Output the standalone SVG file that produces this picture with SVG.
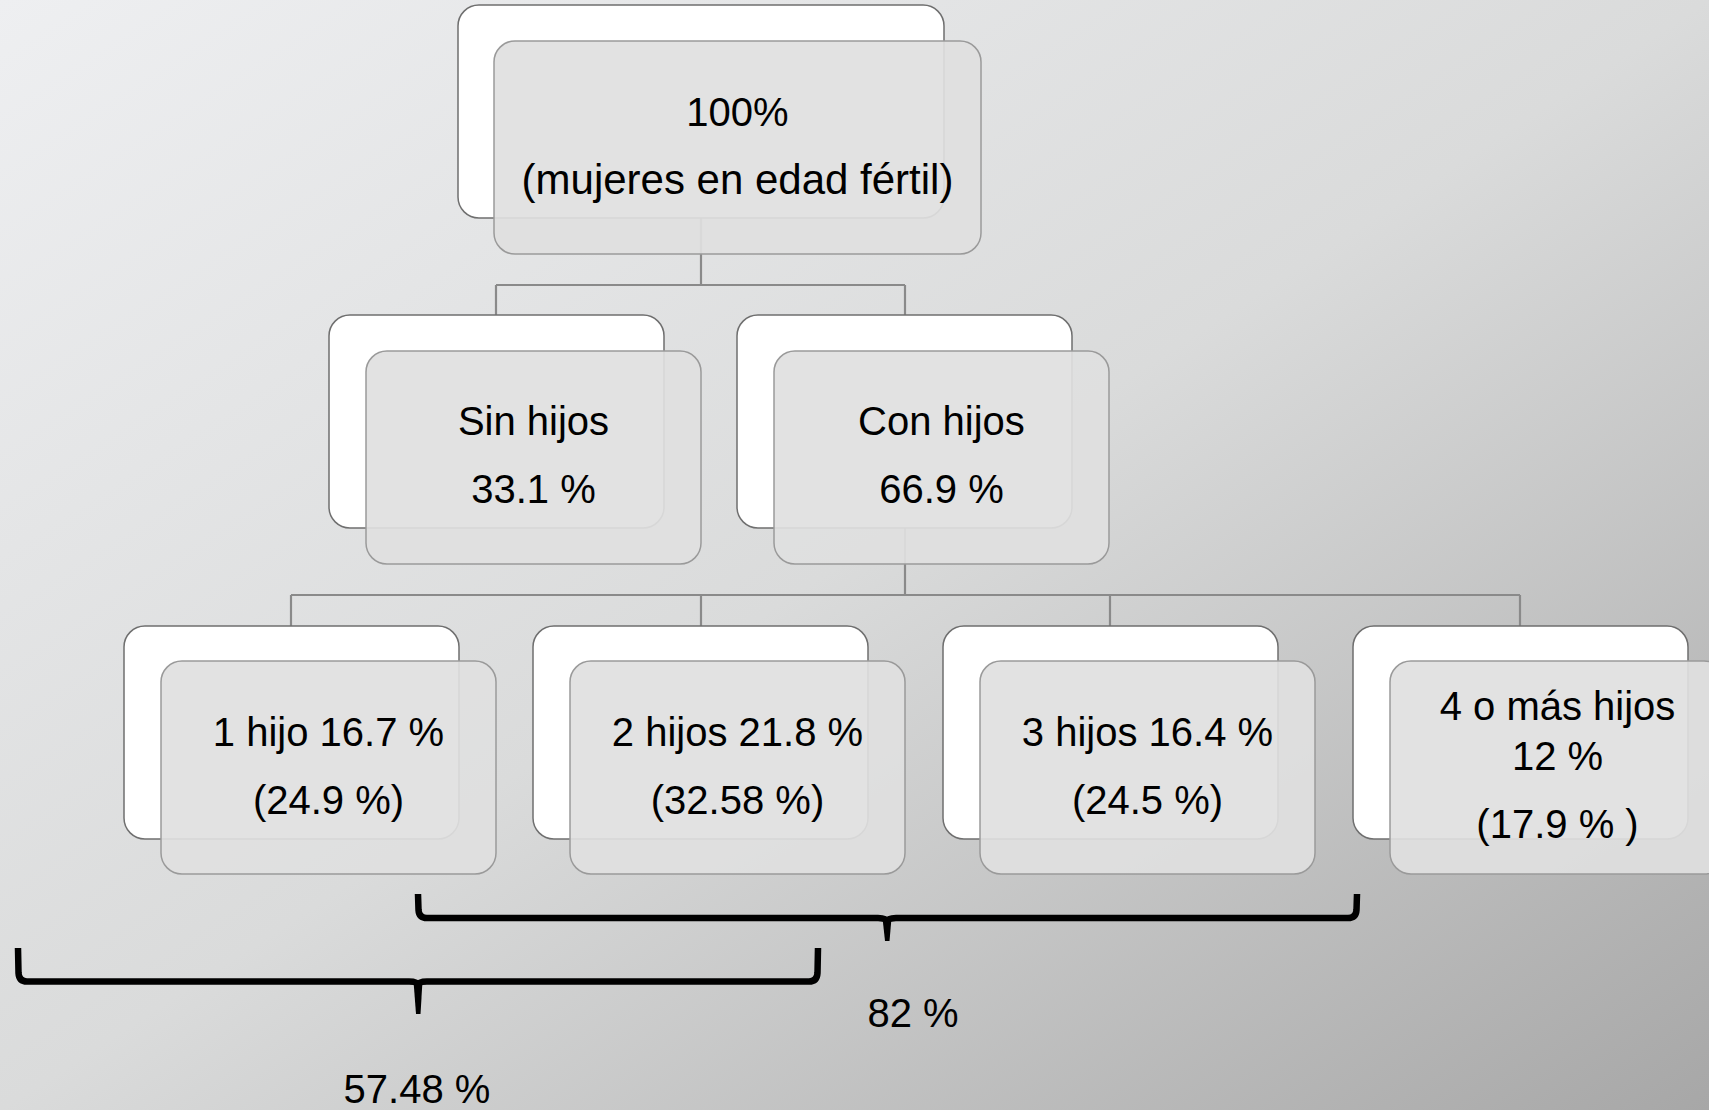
<svg xmlns="http://www.w3.org/2000/svg" width="1709" height="1110" viewBox="0 0 1709 1110">
  <defs>
    <linearGradient id="bg" x1="0" y1="0" x2="1" y2="1">
      <stop offset="0" stop-color="#eeeff1"/>
      <stop offset="0.5" stop-color="#dadbdb"/>
      <stop offset="1" stop-color="#a7a7a7"/>
    </linearGradient>
  </defs>
  <style>
    .back { fill: #ffffff; stroke: #6f6f6f; stroke-width: 1.5; }
    .front { fill: #e0e0e0; fill-opacity: 0.92; stroke: #9a9a9a; stroke-width: 1.5; }
    .conn { fill: none; stroke: #8a8a8a; stroke-width: 2.2; }
    .brace { fill: none; stroke: #000000; stroke-width: 6.5; stroke-linejoin: round; }
    .tick { fill: #000000; }
    text { font-family: "Liberation Sans", Arial, sans-serif; font-size: 40px; fill: #000000; text-anchor: middle; }
    .big { font-size: 42px; }
  </style>
  <rect x="0" y="0" width="1709" height="1110" fill="url(#bg)"/>

  <g id="connectors">
    <path class="conn" d="M701 218 V285 M496 285 H905 M496 285 V315 M905 285 V315"/>
    <path class="conn" d="M905 528 V595 M291 595 H1520 M291 595 V626 M701 595 V626 M1110 595 V626 M1520 595 V626"/>
  </g>

  <g id="node-total">
    <rect class="back" x="458" y="5" width="486" height="213" rx="21"/>
    <rect class="front" x="494" y="41" width="487" height="213" rx="21"/>
    <text x="737.5" y="126">100%</text>
    <text class="big" x="737.5" y="194">(mujeres en edad fértil)</text>
  </g>

  <g id="node-sin-hijos">
    <rect class="back" x="329" y="315" width="335" height="213" rx="21"/>
    <rect class="front" x="366" y="351" width="335" height="213" rx="21"/>
    <text x="533.5" y="435">Sin hijos</text>
    <text x="533.5" y="503">33.1 %</text>
  </g>

  <g id="node-con-hijos">
    <rect class="back" x="737" y="315" width="335" height="213" rx="21"/>
    <rect class="front" x="774" y="351" width="335" height="213" rx="21"/>
    <text x="941.5" y="435">Con hijos</text>
    <text x="941.5" y="503">66.9 %</text>
  </g>

  <g id="node-1-hijo">
    <rect class="back" x="124" y="626" width="335" height="213" rx="21"/>
    <rect class="front" x="161" y="661" width="335" height="213" rx="21"/>
    <text x="328.5" y="746">1 hijo 16.7 %</text>
    <text x="328.5" y="814">(24.9 %)</text>
  </g>

  <g id="node-2-hijos">
    <rect class="back" x="533" y="626" width="335" height="213" rx="21"/>
    <rect class="front" x="570" y="661" width="335" height="213" rx="21"/>
    <text x="737.5" y="746">2 hijos 21.8 %</text>
    <text x="737.5" y="814">(32.58 %)</text>
  </g>

  <g id="node-3-hijos">
    <rect class="back" x="943" y="626" width="335" height="213" rx="21"/>
    <rect class="front" x="980" y="661" width="335" height="213" rx="21"/>
    <text x="1147.5" y="746">3 hijos 16.4 %</text>
    <text x="1147.5" y="814">(24.5 %)</text>
  </g>

  <g id="node-4-hijos">
    <rect class="back" x="1353" y="626" width="335" height="213" rx="21"/>
    <rect class="front" x="1390" y="661" width="335" height="213" rx="21"/>
    <text x="1557.5" y="720">4 o más hijos</text>
    <text x="1557.5" y="770">12 %</text>
    <text x="1557.5" y="838">(17.9 % )</text>
  </g>

  <g id="brace-82">
    <path class="brace" d="M418 894 L418.5 910 Q419 918 427 918 L878 918 Q886 918 887 922 Q888 918 896 918 L1348 918 Q1356 918 1356.5 910 L1357 894"/>
    <path class="tick" d="M882.5 918 L891.5 918 L889.5 941 L885 941 Z"/>
    <text x="913" y="1027">82 %</text>
  </g>

  <g id="brace-5748">
    <path class="brace" d="M18 948 L18.5 973 Q19 981.5 27 981.5 L409 981.5 Q417 981.5 418 985 Q419 981.5 427 981.5 L809 981.5 Q817 981.5 817.5 973 L818 948"/>
    <path class="tick" d="M413.5 981 L422.5 981 L420.5 1014 L416 1014 Z"/>
    <text x="417" y="1103">57.48 %</text>
  </g>
</svg>
